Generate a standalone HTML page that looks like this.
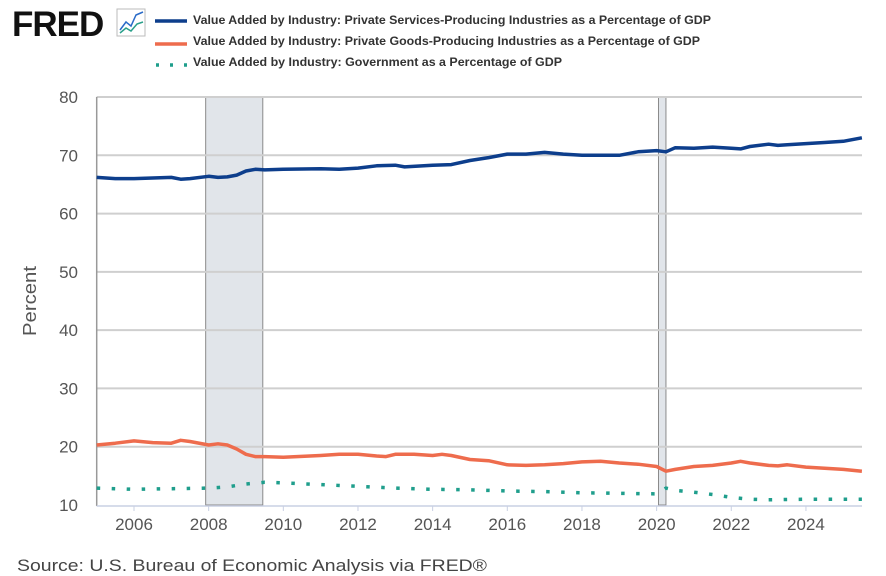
<!DOCTYPE html>
<html><head><meta charset="utf-8"><style>
body{margin:0;background:#fff;}
svg{display:block;font-family:"Liberation Sans",Arial,sans-serif;}
</style></head><body>
<svg id="chart" width="886" height="576" viewBox="0 0 886 576">
<text x="12" y="36" font-size="35" font-weight="bold" fill="#111" letter-spacing="-1">FRED</text>
<g>
<rect x="117" y="9" width="28" height="27" fill="#fff" stroke="#bbb"/>
<polyline points="120,30 126,22 131,26 136,15 143,12" fill="none" stroke="#2a6bc8" stroke-width="1.5"/>
<polyline points="120,33 126,28 131,31 137,24 143,22" fill="none" stroke="#2aa08a" stroke-width="1.5"/>
</g>
<g>
<line x1="155" y1="21" x2="187" y2="21" stroke="#0d3e8c" stroke-width="3.5"/>
<text x="193" y="24" font-size="12" font-weight="bold" fill="#333" textLength="518" lengthAdjust="spacingAndGlyphs">Value Added by Industry: Private Services-Producing Industries as a Percentage of GDP</text>
<line x1="155" y1="44" x2="187" y2="44" stroke="#ee6c4d" stroke-width="3.5"/>
<text x="193" y="45" font-size="12" font-weight="bold" fill="#333" textLength="507" lengthAdjust="spacingAndGlyphs">Value Added by Industry: Private Goods-Producing Industries as a Percentage of GDP</text>
<line x1="156" y1="65" x2="187" y2="65" stroke="#1f9e8c" stroke-width="3.5" stroke-dasharray="3 11"/>
<text x="193" y="66" font-size="12" font-weight="bold" fill="#333" textLength="369" lengthAdjust="spacingAndGlyphs">Value Added by Industry: Government as a Percentage of GDP</text>
</g>
<g id="plot"></g>
<text transform="translate(36,301) rotate(-90)" text-anchor="middle" font-size="18" fill="#555" textLength="70" lengthAdjust="spacingAndGlyphs">Percent</text>
<text x="17" y="571" font-size="17" fill="#444" textLength="470" lengthAdjust="spacingAndGlyphs">Source: U.S. Bureau of Economic Analysis via FRED®</text>
</svg>
<script>
const yTicks=[10,20,30,40,50,60,70,80];
const xTicks=[2006,2008,2010,2012,2014,2016,2018,2020,2022,2024];
const recessionStarts=[2007.92,2020.05];
const recessionEnds=[2009.45,2020.25];
const servDates=[2005,2005.5,2006,2006.5,2007,2007.25,2007.5,2008,2008.25,2008.5,2008.75,2009,2009.25,2009.5,2010,2011,2011.5,2012,2012.5,2013,2013.25,2014,2014.5,2015,2015.5,2016,2016.5,2017,2017.5,2018,2018.5,2019,2019.5,2020,2020.25,2020.5,2021,2021.5,2022,2022.25,2022.5,2023,2023.25,2023.5,2024,2024.5,2025,2025.5];
const servVals=[66.2,66.0,66.0,66.1,66.2,65.9,66.0,66.4,66.2,66.3,66.6,67.3,67.6,67.5,67.6,67.7,67.6,67.8,68.2,68.3,68.0,68.3,68.4,69.1,69.6,70.2,70.2,70.5,70.2,70.0,70.0,70.0,70.6,70.8,70.6,71.3,71.2,71.4,71.2,71.1,71.5,71.9,71.7,71.8,72.0,72.2,72.4,73.0];
const goodsDates=[2005,2005.5,2006,2006.5,2007,2007.25,2007.5,2008,2008.25,2008.5,2008.75,2009,2009.25,2009.5,2010,2011,2011.5,2012,2012.5,2012.75,2013,2013.5,2014,2014.25,2014.5,2015,2015.5,2016,2016.5,2017,2017.5,2018,2018.5,2019,2019.5,2020,2020.25,2020.5,2021,2021.5,2022,2022.25,2022.5,2023,2023.25,2023.5,2024,2024.5,2025,2025.5];
const goodsVals=[20.3,20.6,21.0,20.7,20.6,21.1,20.9,20.3,20.5,20.3,19.6,18.7,18.3,18.3,18.2,18.5,18.7,18.7,18.4,18.3,18.7,18.7,18.5,18.7,18.5,17.8,17.6,16.9,16.8,16.9,17.1,17.4,17.5,17.2,17.0,16.6,15.8,16.1,16.6,16.8,17.2,17.5,17.2,16.8,16.7,16.9,16.5,16.3,16.1,15.8];
const govDates=[2005,2006,2007,2008,2008.5,2009,2009.5,2010,2011,2012,2013,2014,2015,2016,2017,2018,2019,2020,2020.25,2020.5,2021,2021.5,2022,2022.5,2023,2024,2025,2025.5];
const govVals=[12.9,12.7,12.8,12.9,13.1,13.6,13.9,13.8,13.5,13.2,12.9,12.7,12.6,12.4,12.3,12.1,12.0,11.9,12.9,12.5,12.2,11.8,11.3,11.0,10.9,11.0,11.0,11.0];
const X0=96.7,X1=862,Y0=97,Y1=505;
function xs(t){return 134+37.33*(t-2006);}
function ys(v){return Y1-(v-10)*(Y1-Y0)/70;}
const NS='http://www.w3.org/2000/svg';
const g=document.getElementById('plot');
function mk(tag,attrs,parent){const e=document.createElementNS(NS,tag);for(const k in attrs)e.setAttribute(k,attrs[k]);(parent||g).appendChild(e);return e;}
for(let i=0;i<recessionStarts.length;i++){
 const r=mk('rect',{x:xs(recessionStarts[i]),y:Y0,width:xs(recessionEnds[i])-xs(recessionStarts[i]),height:Y1-Y0,fill:'#e1e5ea',stroke:'#8a8a8a','stroke-width':1});
 
 
}
yTicks.forEach(v=>{
 const l=mk('line',{x1:X0,x2:X1,y1:ys(v),y2:ys(v),stroke:'#cfcfcf','stroke-width':v===10?0:2});
 
 
 const t=mk('text',{x:78,y:ys(v)+6,'text-anchor':'end','font-size':17,fill:'#555'});
 t.textContent=v;
 
 
});
const ax=mk('line',{x1:X0,x2:X0,y1:Y0,y2:Y1+1,stroke:'#999','stroke-width':1.5});


const bx=mk('line',{x1:X0,x2:X1,y1:Y1+1,y2:Y1+1,stroke:'#c9d0e3','stroke-width':1.5});


xTicks.forEach(t=>{
 const l=mk('line',{x1:xs(t),x2:xs(t),y1:Y1+1,y2:Y1+6,stroke:'#c9d0e3','stroke-width':1});
 
 
 const s=mk('text',{x:xs(t),y:530,'text-anchor':'middle','font-size':17,fill:'#555'});
 s.textContent=t;
 
 
});
function pts(d,v){return d.map((t,i)=>xs(t).toFixed(1)+','+ys(v[i]).toFixed(1)).join(' ');}
const s1=mk('polyline',{points:pts(servDates,servVals),fill:'none',stroke:'#0d3e8c','stroke-width':3.5,'stroke-linejoin':'round'});


const s2=mk('polyline',{points:pts(goodsDates,goodsVals),fill:'none',stroke:'#ee6c4d','stroke-width':3.5,'stroke-linejoin':'round'});


const s3=mk('polyline',{points:pts(govDates,govVals),fill:'none',stroke:'#1f9e8c','stroke-width':3.5,'stroke-dasharray':'3.5 11.5'});


</script>
</body></html>
